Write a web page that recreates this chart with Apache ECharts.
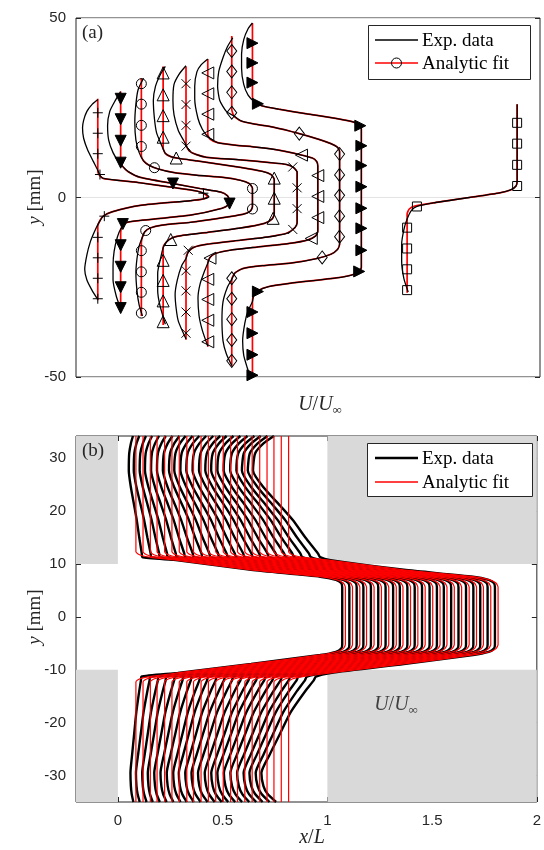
<!DOCTYPE html>
<html>
<head>
<meta charset="utf-8">
<script src="https://cdn.jsdelivr.net/npm/echarts@6/dist/echarts.min.js"></script>
<style>
html,body{margin:0;padding:0;background:#fff}
#chart{width:544px;height:850px}
</style>
</head>
<body>
<div id="chart"></div>
<script>
// ---------------- Panel (a): profiles shifted along the U/U∞ axis ----------------
// Each profile: analytic fit (red), measurement (black), fit markers. Points are [U, y].
const fitPlus = [[0.19,27.5],[0.19,7.6],[0.20,6.4],[0.24,5.3],[0.40,4.7],[0.58,4.1],[0.88,2.8],[1.10,1.8],[1.17,1.0],[1.20,0.2],[1.16,-0.4],[1.04,-0.9],[0.58,-2.2],[0.32,-4.0],[0.24,-5.2],[0.21,-6.4],[0.19,-8.0],[0.19,-28.6]];
const expPlus = [[0.19,27.3],[0.14,26],[0.09,24],[0.06,21.5],[0.05,19.4],[0.06,16.5],[0.10,13],[0.15,10],[0.19,7.6],[0.21,6.2],[0.24,5.3],[0.40,4.7],[0.58,4.1],[0.88,2.8],[1.10,1.8],[1.18,1.0],[1.21,0.2],[1.16,-0.4],[1.04,-0.9],[0.58,-2.2],[0.32,-4.0],[0.24,-5.2],[0.20,-7],[0.16,-9.5],[0.12,-12.5],[0.09,-16],[0.07,-20],[0.09,-23],[0.14,-26],[0.19,-28.4]];
const markPlus = [[0.19,23.6],[0.19,17.9],[0.19,12.2],[0.21,6.4],[1.16,1.2],[0.25,-5.2],[0.19,-11.1],[0.19,-16.8],[0.19,-22.5],[0.19,-28.2]];

const fitTriDown = [[0.40,29.5],[0.40,10.2],[0.42,8.6],[0.47,7.2],[0.58,5.6],[0.88,3.9],[1.13,2.5],[1.32,1.5],[1.38,0.5],[1.40,-0.8],[1.39,-2.0],[1.33,-3.0],[1.04,-4.9],[0.58,-6.4],[0.45,-7.0],[0.41,-8.2],[0.40,-9.8],[0.40,-31.3]];
const expTriDown = [[0.40,29.5],[0.35,27],[0.30,24],[0.28,20],[0.29,16],[0.33,12.5],[0.38,10],[0.42,8.6],[0.47,7.2],[0.58,5.6],[0.88,3.9],[1.13,2.5],[1.32,1.5],[1.38,0.5],[1.40,-0.8],[1.39,-2.0],[1.33,-3.0],[1.04,-4.9],[0.58,-6.4],[0.45,-7.0],[0.40,-8.8],[0.37,-11],[0.34,-15],[0.33,-19],[0.33,-23],[0.36,-27.5],[0.40,-31.0]];
const markTriDown = [[0.40,27.5],[0.40,21.8],[0.40,15.8],[0.40,9.7],[0.88,3.9],[1.40,-1.7],[0.42,-7.4],[0.40,-13.3],[0.40,-19.3],[0.40,-25.0],[0.40,-30.8]];

const fitCircle = [[0.59,33.2],[0.59,11.6],[0.61,10.2],[0.66,9.0],[0.74,8.0],[0.88,7.0],[1.10,6.2],[1.34,5.6],[1.50,4.8],[1.58,3.9],[1.61,2.6],[1.61,-2.6],[1.59,-3.8],[1.52,-4.7],[1.30,-5.8],[1.04,-6.9],[0.78,-7.7],[0.67,-8.5],[0.62,-9.6],[0.60,-11],[0.59,-12.5],[0.59,-33.0]];
const expCircle = [[0.61,33.2],[0.56,30],[0.54,26],[0.53,21],[0.54,16],[0.57,12.5],[0.61,10.2],[0.66,9.0],[0.74,8.0],[0.88,7.0],[1.10,6.2],[1.34,5.6],[1.50,4.8],[1.58,3.9],[1.61,2.6],[1.61,-2.6],[1.59,-3.8],[1.52,-4.7],[1.30,-5.8],[1.04,-6.9],[0.78,-7.7],[0.67,-8.5],[0.62,-9.6],[0.60,-11],[0.57,-13.5],[0.55,-17],[0.54,-21],[0.55,-26],[0.57,-30],[0.60,-33]];
const markCircle = [[0.59,31.7],[0.59,26.0],[0.59,20.1],[0.59,14.2],[0.71,8.3],[1.61,2.5],[1.61,-3.2],[0.63,-9.2],[0.59,-14.8],[0.59,-20.7],[0.59,-26.4],[0.59,-32.2]];

const fitTriUp = [[0.79,36.5],[0.79,13.8],[0.81,12.3],[0.86,11.4],[0.95,10.8],[1.10,10.2],[1.50,8.4],[1.70,7.3],[1.78,6.4],[1.81,5.0],[1.81,-4.6],[1.79,-6.0],[1.72,-7.2],[1.50,-8.5],[1.20,-9.7],[0.98,-10.5],[0.87,-11.3],[0.82,-12.4],[0.79,-14.0],[0.79,-35.5]];
const expTriUp = [[0.81,36.5],[0.76,34],[0.72,31],[0.70,27],[0.71,22],[0.73,18],[0.77,15],[0.81,12.3],[0.86,11.4],[0.95,10.8],[1.10,10.2],[1.50,8.4],[1.70,7.3],[1.78,6.4],[1.81,5.0],[1.81,-4.6],[1.79,-6.0],[1.72,-7.2],[1.50,-8.5],[1.20,-9.7],[0.98,-10.5],[0.87,-11.3],[0.82,-12.4],[0.79,-14.0],[0.77,-16.5],[0.74,-21],[0.74,-26],[0.76,-30],[0.81,-35.3]];
const markTriUp = [[0.79,34.7],[0.79,28.6],[0.79,22.8],[0.79,16.8],[0.91,11.0],[1.81,5.4],[1.81,-0.2],[1.80,-5.8],[0.86,-11.7],[0.79,-17.5],[0.79,-23.1],[0.79,-28.8],[0.79,-34.6]];

const fitCross = [[1.00,36.5],[1.00,14.6],[1.03,13.0],[1.09,12.0],[1.19,11.2],[1.50,10.5],[1.77,9.7],[1.92,9.2],[1.99,8.3],[2.02,7.0],[2.02,-7.0],[2.00,-8.4],[1.93,-9.9],[1.75,-11.0],[1.50,-11.9],[1.20,-13.0],[1.07,-13.9],[1.02,-15.2],[1.00,-17.0],[1.00,-39.6]];
const expCross = [[1.00,36.7],[0.94,34.5],[0.89,31.5],[0.88,27],[0.89,23],[0.93,18.6],[0.98,15.8],[1.03,13.0],[1.09,12.0],[1.19,11.2],[1.50,10.5],[1.77,9.7],[1.92,9.2],[1.99,8.3],[2.02,7.0],[2.02,-7.0],[2.00,-8.4],[1.93,-9.9],[1.75,-11.0],[1.50,-11.9],[1.20,-13.0],[1.07,-13.9],[1.02,-15.2],[1.00,-17.0],[0.96,-19],[0.92,-23],[0.90,-27],[0.91,-31],[0.93,-34.5],[1.00,-39.4]];
const markCross = [[1.00,31.7],[1.00,25.9],[1.00,20.1],[1.00,14.3],[1.98,8.5],[2.02,2.7],[2.02,-3.1],[1.98,-8.9],[1.02,-14.7],[1.00,-20.4],[1.00,-26.0],[1.00,-31.9],[1.00,-37.8]];

const fitTriLeft = [[1.20,38.6],[1.20,17.6],[1.22,16.3],[1.29,15.3],[1.45,14.6],[1.65,14.0],[1.85,13.2],[2.05,11.9],[2.16,11.0],[2.20,10.0],[2.21,8.8],[2.21,-9.4],[2.19,-10.7],[2.12,-11.8],[1.95,-12.8],[1.65,-13.8],[1.40,-14.7],[1.27,-15.6],[1.22,-16.7],[1.20,-18.3],[1.20,-41.6]];
const expTriLeft = [[1.20,38.6],[1.14,37],[1.10,35],[1.08,31],[1.08,27.5],[1.11,22],[1.15,19],[1.20,17],[1.29,15.3],[1.45,14.6],[1.65,14.0],[1.85,13.2],[2.05,11.9],[2.16,11.0],[2.20,10.0],[2.21,8.8],[2.21,-9.4],[2.19,-10.7],[2.12,-11.8],[1.95,-12.8],[1.65,-13.8],[1.40,-14.7],[1.27,-15.6],[1.22,-16.7],[1.20,-18.3],[1.17,-20.5],[1.13,-24],[1.11,-28],[1.12,-33],[1.15,-37],[1.20,-41.4]];
const markTriLeft = [[1.20,34.7],[1.20,28.9],[1.20,23.2],[1.20,17.6],[2.06,11.8],[2.21,6.1],[2.21,0.3],[2.21,-5.6],[2.15,-11.4],[1.22,-16.9],[1.20,-22.8],[1.20,-28.4],[1.20,-34.2],[1.20,-40.2]];

const fitDiamond = [[1.42,45.0],[1.42,24.6],[1.44,22.7],[1.50,21.4],[1.62,20.5],[1.80,19.6],[2.04,17.8],[2.22,16.2],[2.33,15.0],[2.39,14.0],[2.41,12.8],[2.41,-13.0],[2.39,-14.5],[2.33,-15.8],[2.20,-17.0],[1.96,-18.3],[1.70,-19.0],[1.52,-19.8],[1.45,-21.0],[1.42,-22.8],[1.42,-47.0]];
const expDiamond = [[1.43,44.5],[1.38,42],[1.34,39],[1.30,35],[1.29,31],[1.31,27],[1.37,24],[1.44,22.7],[1.50,21.4],[1.62,20.5],[1.80,19.6],[2.04,17.8],[2.22,16.2],[2.33,15.0],[2.39,14.0],[2.41,12.8],[2.41,-13.0],[2.39,-14.5],[2.33,-15.8],[2.20,-17.0],[1.96,-18.3],[1.70,-19.0],[1.52,-19.8],[1.45,-21.0],[1.42,-22.8],[1.38,-25],[1.34,-29],[1.33,-34],[1.34,-40],[1.37,-43.5],[1.42,-46.8]];
const markDiamond = [[1.42,40.8],[1.42,35.1],[1.42,29.3],[1.42,23.6],[2.04,17.8],[2.41,12.1],[2.41,6.3],[2.41,0.6],[2.41,-5.2],[2.41,-10.9],[2.25,-16.7],[1.42,-22.5],[1.42,-28.2],[1.42,-33.9],[1.42,-39.7],[1.42,-45.5]];

const fitTriRight = [[1.61,48.6],[1.61,28.0],[1.63,26.6],[1.70,25.5],[1.85,24.6],[2.11,23.3],[2.40,21.9],[2.54,21.0],[2.60,20.1],[2.61,19.0],[2.61,-19.4],[2.59,-20.6],[2.52,-21.6],[2.38,-22.4],[1.95,-23.9],[1.76,-24.8],[1.66,-26.0],[1.62,-27.4],[1.61,-29.0],[1.61,-50.8]];
const expTriRight = [[1.61,48.6],[1.57,47],[1.53,44],[1.51,40],[1.51,36],[1.53,31.5],[1.57,28.5],[1.63,26.6],[1.70,25.5],[1.85,24.6],[2.11,23.3],[2.40,21.9],[2.54,21.0],[2.60,20.1],[2.61,19.0],[2.61,-19.4],[2.59,-20.6],[2.52,-21.6],[2.38,-22.4],[1.95,-23.9],[1.76,-24.8],[1.66,-26.0],[1.62,-27.4],[1.61,-29.0],[1.57,-31.5],[1.54,-35],[1.52,-40],[1.53,-44],[1.56,-47.2],[1.60,-50.8]];
const markTriRight = [[1.61,43.0],[1.61,37.5],[1.61,32.0],[1.66,26.1],[2.60,20.0],[2.61,14.4],[2.61,8.9],[2.61,3.0],[2.61,-3.0],[2.61,-8.6],[2.61,-14.7],[2.59,-20.6],[1.66,-26.2],[1.61,-31.9],[1.61,-37.8],[1.61,-43.8],[1.61,-49.5]];

const fitSquare = [[3.03,-26.5],[3.03,-4.6],[3.05,-3.2],[3.10,-2.4],[3.27,-1.5],[3.60,0.0],[3.88,1.3],[3.98,2.1],[4.03,3.2],[4.04,4.5],[4.04,26.0]];
const expSquare = [[3.04,-26.3],[3.00,-22.5],[2.98,-18],[2.98,-13],[3.00,-9],[3.03,-6],[3.07,-3.6],[3.12,-2.5],[3.27,-1.5],[3.60,0.0],[3.88,1.3],[3.98,2.1],[4.03,3.2],[4.04,4.5],[4.04,26.0]];
const markSquare = [[3.03,-25.8],[3.03,-20.0],[3.03,-14.2],[3.03,-8.4],[3.12,-2.5],[4.04,3.2],[4.04,9.1],[4.04,15.0],[4.04,20.8]];

// ---------------- Panel (b): profiles at successive x/L stations ----------------
// Station offsets (x/L) and the strength of each measured profile's outer-flow deviation.
const stationX = [0.086,0.120,0.155,0.187,0.223,0.258,0.293,0.329,0.361,0.397,0.432,0.467,0.503,0.538,0.571,0.606,0.641,0.677,0.712,0.745,0.780,0.815];
const outerAmp = [0.20,0.26,0.30,0.34,0.38,0.42,0.46,0.50,0.54,0.58,0.62,0.65,0.68,0.71,0.74,0.77,0.80,0.83,0.86,0.90,0.94,1.00];
// Analytic-fit shape: U/U∞ above the station offset, at each y [mm].
const fitShapeY = [34.2,12.3,11.7,11.2,10.7,8.9,7.6,7.0,6.4,5.6,-5.2,-6.0,-6.6,-7.2,-8.9,-10.6,-11.2,-11.7,-12.3,-35];
const fitShapeU = [0,0,0.02,0.08,0.2,0.55,0.88,0.96,0.99,1,1,0.99,0.96,0.88,0.55,0.2,0.08,0.02,0,0];
// Measured shape: upper outer flow, shear layers + core, lower outer flow.
const expUpperY = [34.2,32.8,30.9,27.7,24.5,21.0,18.3,15.0,12.0,11.3];
const expUpperDev = [-0.07,-0.12,-0.16,-0.17,-0.12,-0.04,0.02,0.08,0.14,0.15];
const expCoreY = [10.7,8.9,7.6,7.0,6.4,5.6,-5.2,-6.0,-6.6,-7.2,-8.9,-10.6];
const expCoreU = [0.2,0.55,0.88,0.955,0.98,0.985,0.985,0.98,0.955,0.88,0.55,0.2];
const expLowerY = [-11.3,-12.0,-14.0,-18.0,-22.0,-26.0,-29.5,-32.0,-33.5,-35];
const expLowerDev = [0.13,0.12,0.08,0.01,-0.04,-0.09,-0.13,-0.12,-0.10,-0.06];

const bTicksX = [0, 0.5, 1, 1.5, 2];
const bTicksY = [-30, -20, -10, 0, 10, 20, 30];

// ---------------- chart ----------------
const INK = '#262626';
const RED = '#ff0000';
const SERIF = '"Liberation Serif","DejaVu Serif",serif';
const SANS = '"Liberation Sans",Arial,sans-serif';

const series = [];

function line(data, color, width, xi, yi, z) {
  return {
    type: 'line', xAxisIndex: xi, yAxisIndex: yi, data: data,
    symbol: 'none', showSymbol: false, smooth: 0.2, clip: true, silent: true,
    lineStyle: { color: color, width: width }, z: z
  };
}
function markers(data, symbol, size, rotate, filled) {
  return {
    type: 'scatter', xAxisIndex: 0, yAxisIndex: 0, data: data, clip: true, silent: true,
    symbol: symbol, symbolSize: size, symbolRotate: rotate,
    itemStyle: { color: filled ? '#000' : 'rgba(0,0,0,0)', borderColor: '#000', borderWidth: 1, opacity: 1 },
    z: 5
  };
}

const PLUS = 'path://M5,0L5,10M0,5L10,5';
const CROSS = 'path://M0,0L10,10M10,0L0,10';

const panelA = [
  [fitPlus, expPlus, markPlus, PLUS, 10, 0, false],
  [fitTriDown, expTriDown, markTriDown, 'triangle', 11, 180, true],
  [fitCircle, expCircle, markCircle, 'circle', 10, 0, false],
  [fitTriUp, expTriUp, markTriUp, 'triangle', 12, 0, false],
  [fitCross, expCross, markCross, CROSS, 9, 0, false],
  [fitTriLeft, expTriLeft, markTriLeft, 'triangle', 12, 90, false],
  [fitDiamond, expDiamond, markDiamond, 'diamond', [10, 13], 0, false],
  [fitTriRight, expTriRight, markTriRight, 'triangle', 11, -90, true],
  [fitSquare, expSquare, markSquare, 'rect', 9, 0, false]
];
panelA.forEach(p => {
  series.push(line(p[0], RED, 1.7, 0, 0, 2));
  series.push(line(p[1], '#000', 1.3, 0, 0, 3));
  series.push(markers(p[2], p[3], p[4], p[5], p[6]));
});

// shaded solid regions of panel (b)
series.push({
  type: 'line', xAxisIndex: 1, yAxisIndex: 2, data: [], silent: true, z: 1,
  markArea: {
    silent: true,
    itemStyle: { color: '#d9d9d9' },
    data: [
      [{ xAxis: -0.2, yAxis: 10 }, { xAxis: 0, yAxis: 34.2 }],
      [{ xAxis: 1, yAxis: 10 }, { xAxis: 2, yAxis: 34.2 }],
      [{ xAxis: -0.2, yAxis: -35 }, { xAxis: 0, yAxis: -10 }],
      [{ xAxis: 1, yAxis: -35 }, { xAxis: 2, yAxis: -10 }]
    ]
  }
});

stationX.forEach((x0, k) => {
  const a = outerAmp[k];
  const exp = []
    .concat(expUpperY.map((y, i) => [x0 + a * expUpperDev[i], y]))
    .concat(expCoreY.map((y, i) => [x0 + expCoreU[i], y]))
    .concat(expLowerY.map((y, i) => [x0 + a * expLowerDev[i], y]));
  series.push(line(exp, '#000', 2.4, 1, 2, 3));
});
stationX.forEach(x0 => {
  const fit = fitShapeY.map((y, i) => [x0 + fitShapeU[i], y]);
  series.push(line(fit, RED, 1.2, 1, 2, 4));
});

const noLine = { show: false, onZero: false };

const chart = echarts.init(document.getElementById('chart'));
chart.setOption({
  animation: false,
  backgroundColor: '#fff',
  grid: [
    { left: 76, top: 18, width: 464, height: 359, show: true, borderColor: INK, borderWidth: 1, backgroundColor: 'rgba(0,0,0,0)' },
    { left: 76, top: 436, width: 463, height: 366, show: true, borderColor: INK, borderWidth: 1, backgroundColor: 'rgba(0,0,0,0)' }
  ],
  xAxis: [
    { gridIndex: 0, type: 'value', min: -0.01, max: 4.25,
      axisLine: noLine, axisTick: { show: false }, axisLabel: { show: false }, splitLine: { show: false } },
    { gridIndex: 1, type: 'value', min: -0.2, max: 2, position: 'bottom',
      axisLine: noLine,
      axisTick: { show: true, inside: true, length: 5, customValues: bTicksX, lineStyle: { color: INK } },
      axisLabel: { show: true, customValues: bTicksX, color: INK, fontSize: 15, fontFamily: SANS, margin: 11 },
      splitLine: { show: false } },
    { gridIndex: 1, type: 'value', min: -0.2, max: 2, position: 'top',
      axisLine: noLine,
      axisTick: { show: true, inside: true, length: 5, customValues: bTicksX, lineStyle: { color: INK } },
      axisLabel: { show: false }, splitLine: { show: false } }
  ],
  yAxis: [
    { gridIndex: 0, type: 'value', min: -50, max: 50, interval: 50, position: 'left',
      axisLine: noLine,
      axisTick: { show: true, inside: true, length: 5, lineStyle: { color: INK } },
      axisLabel: { color: INK, fontSize: 15, fontFamily: SANS, margin: 10 },
      splitLine: { show: true, lineStyle: { color: '#e3e3e3', width: 1 } } },
    { gridIndex: 0, type: 'value', min: -50, max: 50, interval: 50, position: 'right',
      axisLine: noLine,
      axisTick: { show: true, inside: true, length: 5, lineStyle: { color: INK } },
      axisLabel: { show: false }, splitLine: { show: false } },
    { gridIndex: 1, type: 'value', min: -35, max: 34.2, position: 'left',
      axisLine: noLine,
      axisTick: { show: true, inside: true, length: 5, customValues: bTicksY, lineStyle: { color: INK } },
      axisLabel: { show: true, customValues: bTicksY, color: INK, fontSize: 15, fontFamily: SANS, margin: 10 },
      splitLine: { show: false } },
    { gridIndex: 1, type: 'value', min: -35, max: 34.2, position: 'right',
      axisLine: noLine,
      axisTick: { show: true, inside: true, length: 5, customValues: bTicksY, lineStyle: { color: INK } },
      axisLabel: { show: false }, splitLine: { show: false } }
  ],
  series: series,
  graphic: [
    // panel letters
    { type: 'text', z: 100, left: 82, top: 24, style: { text: '(a)', font: '19px ' + SERIF, fill: INK } },
    { type: 'text', z: 100, left: 82, top: 442, style: { text: '(b)', font: '19px ' + SERIF, fill: INK } },
    // axis titles
    { type: 'text', z: 100, x: 35, y: 197, rotation: Math.PI / 2,
      style: { text: '{i|y} [mm]', font: '19px ' + SERIF, fill: INK, align: 'center', verticalAlign: 'middle',
        rich: { i: { font: 'italic 19px ' + SERIF } } } },
    { type: 'text', z: 100, x: 35, y: 617, rotation: Math.PI / 2,
      style: { text: '{i|y} [mm]', font: '19px ' + SERIF, fill: INK, align: 'center', verticalAlign: 'middle',
        rich: { i: { font: 'italic 19px ' + SERIF } } } },
    { type: 'text', z: 100, x: 320, y: 405,
      style: { text: '{i|U}/{i|U}{s|∞}', font: '20px ' + SERIF, fill: INK, align: 'center', verticalAlign: 'middle',
        rich: { i: { font: 'italic 20px ' + SERIF, lineHeight: 24 }, s: { font: '13px ' + SERIF, verticalAlign: 'bottom', lineHeight: 24 } } } },
    { type: 'text', z: 100, x: 312, y: 838,
      style: { text: '{i|x}/{i|L}', font: '20px ' + SERIF, fill: INK, align: 'center', verticalAlign: 'middle',
        rich: { i: { font: 'italic 20px ' + SERIF } } } },
    { type: 'text', z: 100, x: 396, y: 705,
      style: { text: '{i|U}/{i|U}{s|∞}', font: '20px ' + SERIF, fill: '#404040', align: 'center', verticalAlign: 'middle',
        rich: { i: { font: 'italic 20px ' + SERIF, lineHeight: 24 }, s: { font: '13px ' + SERIF, verticalAlign: 'bottom', lineHeight: 24 } } } },
    // legend of panel (a)
    { type: 'rect', z: 100, shape: { x: 368.5, y: 25.5, width: 162, height: 54 }, style: { fill: '#fff', stroke: INK, lineWidth: 1 } },
    { type: 'line', z: 101, shape: { x1: 375, y1: 40, x2: 418, y2: 40 }, style: { stroke: '#000', lineWidth: 1.5 } },
    { type: 'line', z: 101, shape: { x1: 375, y1: 63, x2: 418, y2: 63 }, style: { stroke: RED, lineWidth: 1.5 } },
    { type: 'circle', z: 102, shape: { cx: 396.5, cy: 63, r: 5 }, style: { fill: 'rgba(0,0,0,0)', stroke: '#000', lineWidth: 1 } },
    { type: 'text', z: 101, x: 422, y: 41, style: { text: 'Exp. data', font: '19px ' + SERIF, fill: '#000', verticalAlign: 'middle' } },
    { type: 'text', z: 101, x: 422, y: 64, style: { text: 'Analytic fit', font: '19px ' + SERIF, fill: '#000', verticalAlign: 'middle' } },
    // legend of panel (b)
    { type: 'rect', z: 100, shape: { x: 367.5, y: 443.5, width: 165, height: 53 }, style: { fill: '#fff', stroke: INK, lineWidth: 1 } },
    { type: 'line', z: 101, shape: { x1: 375, y1: 458, x2: 418, y2: 458 }, style: { stroke: '#000', lineWidth: 2.5 } },
    { type: 'line', z: 101, shape: { x1: 375, y1: 482, x2: 418, y2: 482 }, style: { stroke: RED, lineWidth: 1.5 } },
    { type: 'text', z: 101, x: 422, y: 459, style: { text: 'Exp. data', font: '19px ' + SERIF, fill: '#000', verticalAlign: 'middle' } },
    { type: 'text', z: 101, x: 422, y: 483, style: { text: 'Analytic fit', font: '19px ' + SERIF, fill: '#000', verticalAlign: 'middle' } }
  ]
});
</script>
</body>
</html>
